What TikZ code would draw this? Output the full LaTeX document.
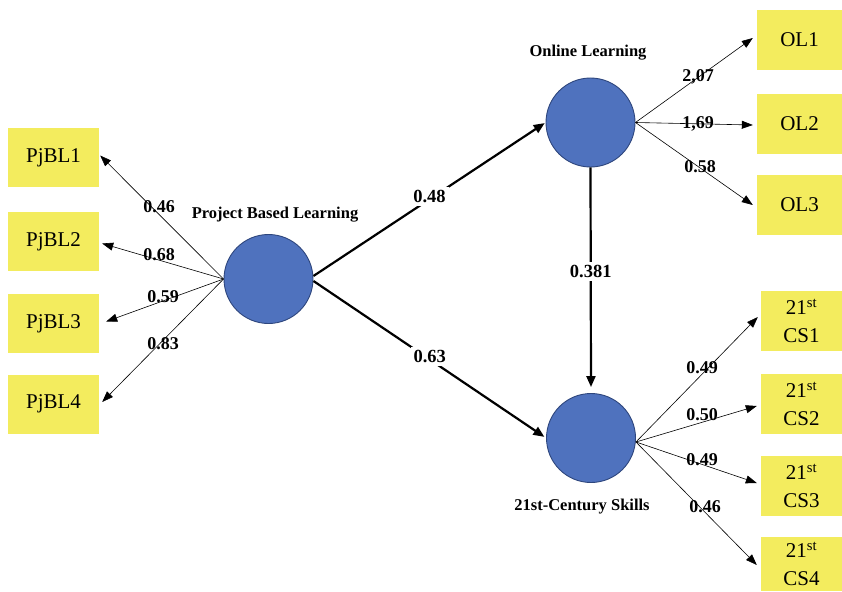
\documentclass[tikz,border=0pt]{standalone}
\usepackage{fontspec}
\setmainfont{Liberation Serif}
\usetikzlibrary{arrows.meta}
\definecolor{indyellow}{RGB}{243,236,94}
\definecolor{latblue}{RGB}{79,114,190}
\definecolor{latedge}{RGB}{46,70,125}
\begin{document}
\begin{tikzpicture}[x=1pt,y=-1pt,
  ind/.style={fill=indyellow, draw=none, minimum width=91pt, minimum height=59pt, inner sep=0pt, align=center, font=\fontsize{21}{28}\selectfont},
  indr/.style={ind, minimum width=85pt, minimum height=60pt},
  indc/.style={ind, minimum width=81pt, minimum height=60pt},
  lat/.style={circle, fill=latblue, draw=latedge, line width=0.9pt, minimum size=89pt, inner sep=0pt},
  thinarrow/.style={-{Triangle[length=11pt,width=8pt]}, line width=0.6pt},
  thickarrow/.style={-{Triangle[length=11pt,width=9pt]}, line width=2.2pt},
  wlab/.style={fill=white, font=\bfseries\fontsize{18.5}{20}\selectfont, inner sep=3pt},
  lab/.style={font=\bfseries\fontsize{18}{19}\selectfont, inner sep=0pt},
  title/.style={font=\bfseries\fontsize{16.5}{18}\selectfont, inner sep=0pt}
]
\useasboundingbox (0,0) rectangle (842,591);

% indicator boxes
\node[ind] (p1) at (53.5,157.5) {PjBL1};
\node[ind] (p2) at (53.5,241.5) {PjBL2};
\node[ind] (p3) at (53.5,323.5) {PjBL3};
\node[ind] (p4) at (53.5,404) {PjBL4};
\node[indr] (o1) at (799.5,40) {OL1};
\node[indr] (o2) at (799.5,124) {OL2};
\node[indr] (o3) at (799.5,205) {OL3};
\node[indc] (c1) at (801.5,321) {21\textsuperscript{st}\\CS1};
\node[indc] (c2) at (801.5,404) {21\textsuperscript{st}\\CS2};
\node[indc] (c3) at (801.5,486) {21\textsuperscript{st}\\CS3};
\node[indc, minimum height=54pt] (c4) at (801.5,564) {21\textsuperscript{st}\\CS4};

% latent variables
\node[lat] (pbl) at (268.5,279) {};
\node[lat] (ol) at (590.5,122.5) {};
\node[lat] (cs) at (591,438) {};

% titles
\node[title] (tpbl) at (275,215) {Project Based Learning};
\node[title] (tol) at (588,53) {Online Learning};
\node[title] (tcs) at (582,507) {21st-Century Skills};

% PjBL arrows
\draw[thinarrow] (pbl.west) -- ([shift={(1,-2)}]p1.east);
\draw[thinarrow] (pbl.west) -- ([shift={(3,2)}]p2.east);
\draw[thinarrow] (pbl.west) -- ([shift={(7,-2)}]p3.east);
\draw[thinarrow] (pbl.west) -- ([shift={(3,-2)}]p4.east);
\node[lab] (l1) at (159,207) {0.46};
\node[lab] (l2) at (159,255) {0.68};
\node[lab] (l3) at (163,297) {0.59};
\node[lab] (l4) at (163,344) {0.83};

% OL arrows
\draw[thinarrow] (ol.east) -- ([shift={(-4,-2)}]o1.west);
\draw[thinarrow] (ol.east) -- ([shift={(-4,1)}]o2.west);
\draw[thinarrow] (ol.east) -- ([shift={(-4,0)}]o3.west);
\node[lab] (l5) at (698,77) {2,07};
\node[lab] (l6) at (698,124) {1,69};
\node[lab] (l7) at (700,167) {0.58};

% CS arrows
\draw[thinarrow] ([yshift=-4]cs.east) -- ([shift={(-3,-4)}]c1.west);
\draw[thinarrow] ([yshift=-4]cs.east) -- ([shift={(-4,2)}]c2.west);
\draw[thinarrow] ([yshift=-4]cs.east) -- ([shift={(-4,-3)}]c3.west);
\draw[thinarrow] ([yshift=-4]cs.east) -- ([shift={(-4,1)}]c4.west);
\node[lab] (l8) at (702,368) {0.49};
\node[lab] (l9) at (702,415) {0.50};
\node[lab] (l10) at (702,460) {0.49};
\node[lab] (l11) at (705,507) {0.46};

% structural paths
\draw[thickarrow, shorten >=1pt] ([yshift=3]pbl.east) -- (ol.west) node[pos=0.5, wlab, yshift=3pt] (s1) {0.48};
\draw[thickarrow, shorten >=2pt] ([yshift=-2]pbl.east) -- (cs.west) node[pos=0.5, wlab, yshift=3pt] (s2) {0.63};
\draw[thickarrow, shorten >=6pt] (ol.south) -- (cs.north) node[pos=0.46, wlab] (s3) {0.381};

\end{tikzpicture}
\end{document}
